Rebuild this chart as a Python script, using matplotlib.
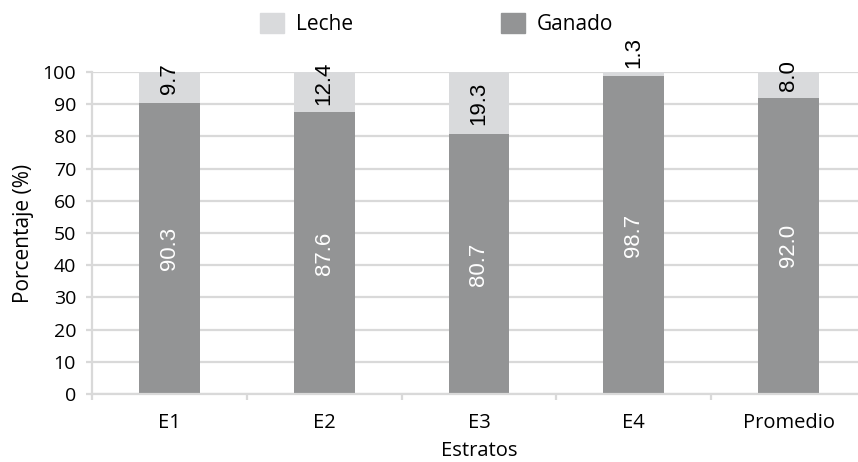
import matplotlib
matplotlib.use("Agg")
import matplotlib.pyplot as plt
from matplotlib.patches import Patch
from matplotlib.ticker import MultipleLocator, FixedLocator
import numpy as np

plt.rcParams['font.family'] = ['Open Sans', 'DejaVu Sans']

categories = ["E1", "E2", "E3", "E4", "Promedio"]
ganado = [90.3, 87.6, 80.7, 98.7, 92.0]
leche = [9.7, 12.4, 19.3, 1.3, 8.0]

COL_GANADO = "#939495"
COL_LECHE = "#D9DADC"
COL_GRID = "#D9D9D9"
VALUE_FONT = ['Liberation Sans Narrow', 'Liberation Sans', 'DejaVu Sans']
VALUE_SIZE = 16

fig = plt.figure(figsize=(8.58, 4.62), dpi=100)
ax = fig.add_axes([92 / 858, 68 / 462, (866 - 92) / 858, (394 - 72) / 462])

x = np.arange(len(categories))
w = 0.394
ax.bar(x, ganado, w, color=COL_GANADO, zorder=2)
ax.bar(x, leche, w, bottom=ganado, color=COL_LECHE, zorder=2)

ax.set_xlim(-0.5, len(categories) - 0.5)
ax.set_ylim(0, 100)
ax.yaxis.set_major_locator(MultipleLocator(10))
ax.grid(axis='y', color=COL_GRID, linewidth=1.6, zorder=0)
ax.set_axisbelow(True)

for s in ['top', 'right']:
    ax.spines[s].set_visible(False)
for s in ['left', 'bottom']:
    ax.spines[s].set_color(COL_GRID)
    ax.spines[s].set_linewidth(1.6)

ax.tick_params(axis='y', length=4.5, width=1.6, color=COL_GRID, pad=7,
               labelsize=14, labelcolor='black')
ax.set_xticks(x)
ax.set_xticklabels(categories)
ax.xaxis.set_minor_locator(FixedLocator(np.arange(-0.5, len(categories), 1.0)))
ax.tick_params(axis='x', which='major', length=0, pad=14, labelsize=14.5)
ax.tick_params(axis='x', which='minor', length=4.5, width=1.6, color=COL_GRID)

ax.set_xlabel("Estratos", fontsize=14.5, labelpad=5.5)
ax.set_ylabel("Porcentaje (%)", fontsize=15, labelpad=6)

# value labels, rotated inside the segments
for xi, g, l in zip(x, ganado, leche):
    ax.text(xi, g / 2, f"{g:.1f}", rotation=90, ha='center', va='center',
            color='white', fontsize=VALUE_SIZE, family=VALUE_FONT, zorder=3)
    if l < 5:
        ax.annotate(f"{l:.1f}", (xi, 100), xytext=(0, 3), textcoords='offset points',
                    rotation=90, ha='center', va='bottom', fontsize=VALUE_SIZE,
                    family=VALUE_FONT, annotation_clip=False, zorder=3)
    elif l < 15:
        ax.annotate(f"{l:.1f}", (xi, g + l / 2), xytext=(0, 6.5), textcoords='offset points',
                    rotation=90, ha='center', va='center', fontsize=VALUE_SIZE,
                    family=VALUE_FONT, annotation_clip=False, zorder=3)
    else:
        ax.text(xi, g + l / 2, f"{l:.1f}", rotation=90, ha='center', va='center',
                fontsize=VALUE_SIZE, family=VALUE_FONT, zorder=3)

handles = [Patch(color=COL_LECHE, label="Leche"), Patch(color=COL_GANADO, label="Ganado")]
fig.legend(handles=handles, loc='center', bbox_to_anchor=(0.509, 0.948), ncol=2,
           frameon=False, fontsize=15, handlelength=1.15, handleheight=1.1,
           handletextpad=0.58, columnspacing=7.1)

fig.savefig("out.png", dpi=100)
